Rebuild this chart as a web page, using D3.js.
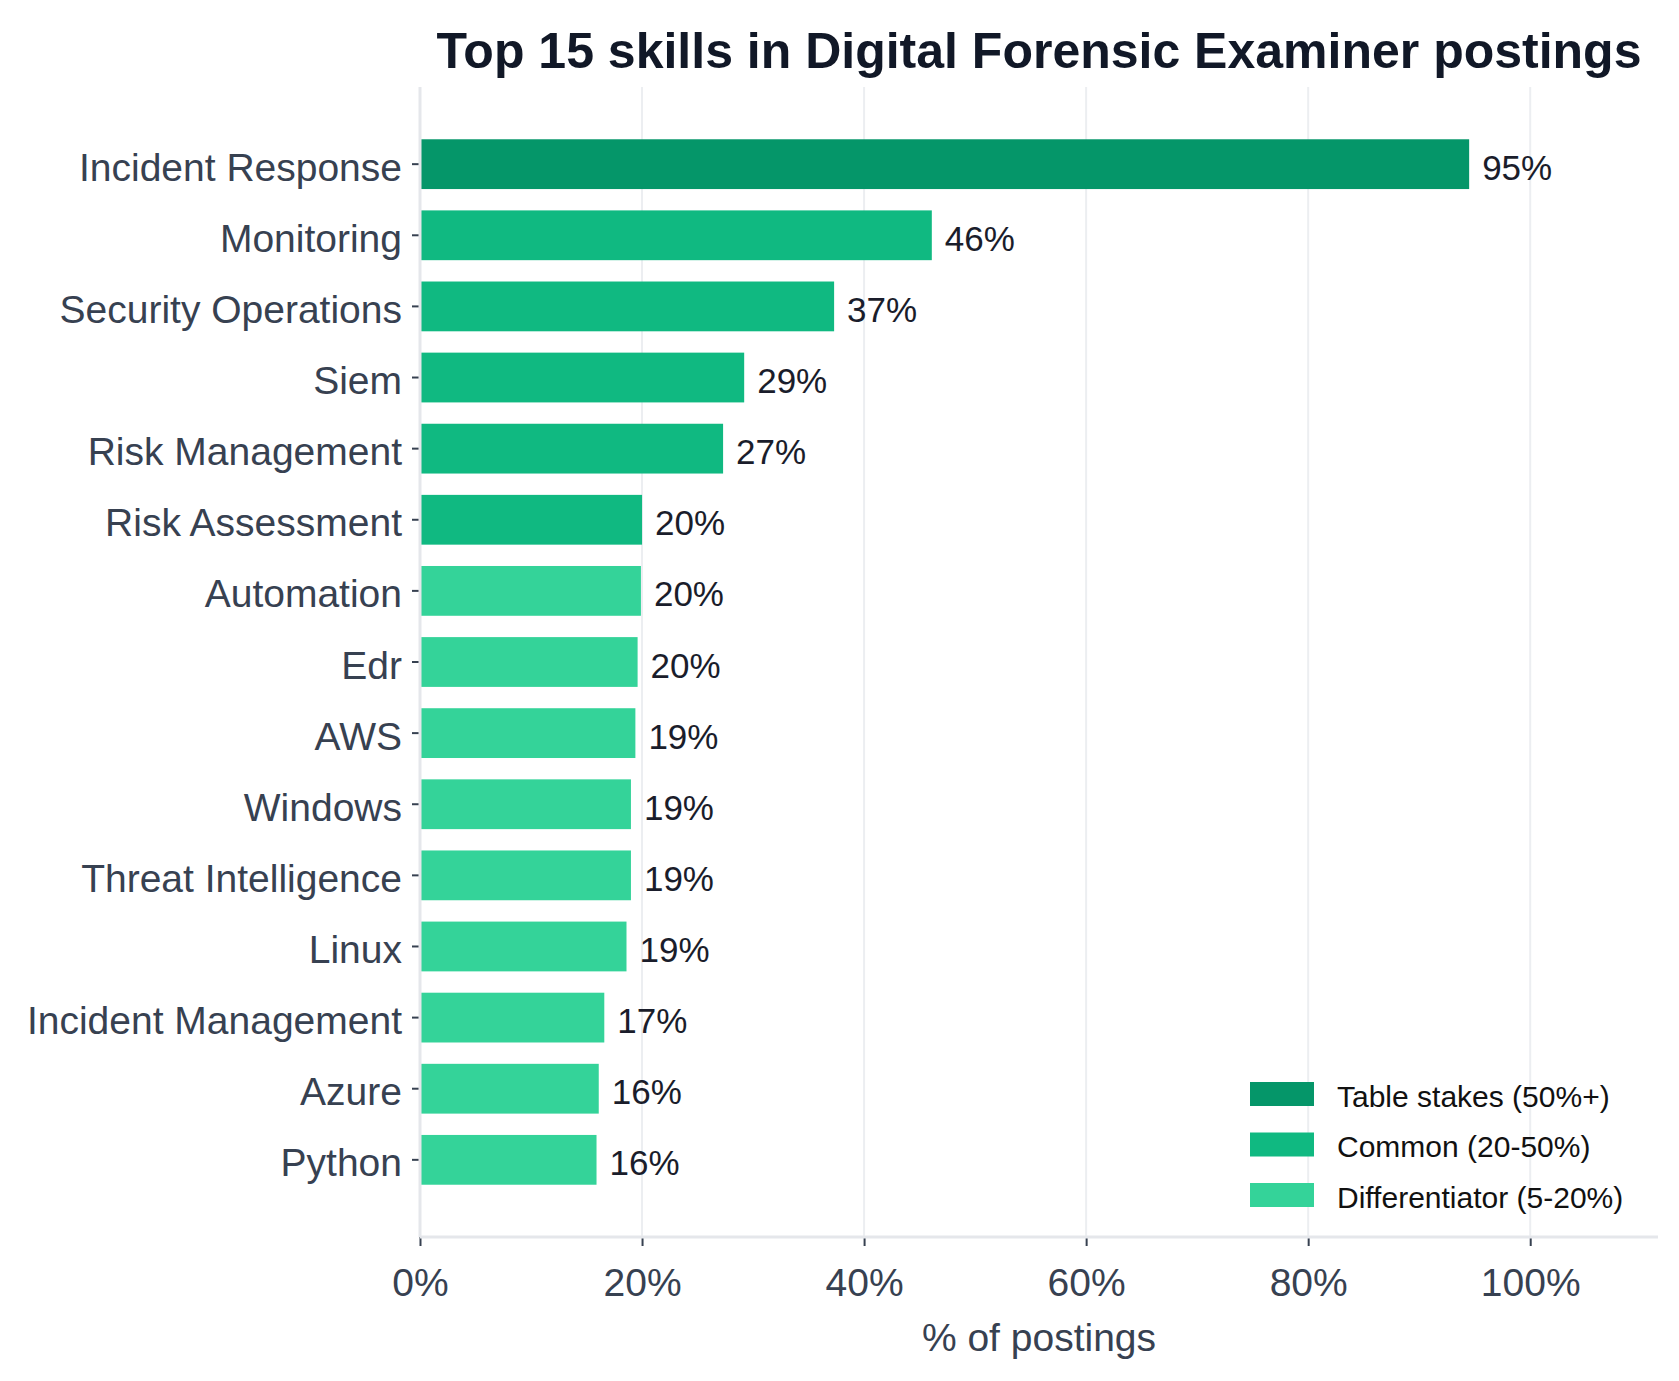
<!DOCTYPE html>
<html>
<head>
<meta charset="utf-8">
<script src="https://cdn.jsdelivr.net/npm/d3@7"></script>
<style>
  body { margin: 0; background: #ffffff; }
  svg text { font-family: "Liberation Sans", Arial, Helvetica, sans-serif; }
</style>
</head>
<body>
<div id="chart"></div>
<script>
// skills, top to bottom
const skills = [
  "Incident Response", "Monitoring", "Security Operations", "Siem",
  "Risk Management", "Risk Assessment", "Automation", "Edr", "AWS",
  "Windows", "Threat Intelligence", "Linux", "Incident Management",
  "Azure", "Python"
];
// share of postings (%)
const shares = [94.5, 46.1, 37.3, 29.2, 27.3, 20.0, 19.9, 19.6, 19.4, 19.0, 19.0, 18.6, 16.6, 16.1, 15.9];
// tier of each skill
const tiers = [
  "Table stakes", "Common", "Common", "Common", "Common", "Common",
  "Differentiator", "Differentiator", "Differentiator", "Differentiator",
  "Differentiator", "Differentiator", "Differentiator", "Differentiator", "Differentiator"
];
const tierNames = ["Table stakes", "Common", "Differentiator"];
const tierLabels = ["Table stakes (50%+)", "Common (20-50%)", "Differentiator (5-20%)"];
const xTicks = [0, 20, 40, 60, 80, 100];

const data = skills.map((s, i) => ({ skill: s, value: shares[i], tier: tiers[i] }));

const W = 1679, H = 1381;
const margin = { top: 87, right: 21, bottom: 144, left: 420 };
const width = W - margin.left - margin.right,
      height = H - margin.top - margin.bottom;

const color = d3.scaleOrdinal()
    .domain(tierNames)
    .range(["#059669", "#10b981", "#34d399"]);

const svg = d3.select("#chart")
    .append("svg")
    .attr("width", W)
    .attr("height", H);

const g = svg.append("g")
    .attr("transform", `translate(${margin.left},${margin.top})`);

// x scale: leave room on the right for the labels
const x = d3.scaleLinear()
    .domain([0, d3.max(shares) * 1.18])
    .range([0, width]);

const y = d3.scaleBand()
    .domain(skills)
    .range([0, height])
    .paddingInner(0.3)
    .paddingOuter(0.735);

// vertical grid
g.selectAll(".grid")
    .data(xTicks)
    .enter().append("line")
    .attr("class", "grid")
    .attr("x1", d => x(d))
    .attr("x2", d => x(d))
    .attr("y1", 0)
    .attr("y2", height)
    .attr("stroke", "#eceef1")
    .attr("stroke-width", 2);

// bars
g.selectAll(".bar")
    .data(data)
    .enter().append("rect")
    .attr("class", "bar")
    .attr("x", x(0))
    .attr("y", d => y(d.skill))
    .attr("width", d => x(d.value) - x(0))
    .attr("height", y.bandwidth())
    .attr("fill", d => color(d.tier));

// value labels
g.selectAll(".value-label")
    .data(data)
    .enter().append("text")
    .attr("class", "value-label")
    .attr("x", d => x(d.value) + 13)
    .attr("y", d => y(d.skill) + y.bandwidth() / 2 + 3)
    .attr("dominant-baseline", "central")
    .attr("font-size", "35px")
    .attr("fill", "#1a1d2b")
    .text(d => Math.round(d.value) + "%");

// y axis
const yAxis = g.append("g")
    .call(d3.axisLeft(y).tickSize(8).tickPadding(10));
yAxis.select(".domain").remove();
yAxis.selectAll(".tick line").attr("stroke", "#374151").attr("stroke-width", 2);
yAxis.selectAll(".tick text")
    .attr("font-size", "39px")
    .attr("fill", "#374151")
    .attr("dy", "3px")
    .attr("dominant-baseline", "central");

// x axis
const xAxis = g.append("g")
    .attr("transform", `translate(0,${height})`)
    .call(d3.axisBottom(x).tickValues(xTicks).tickFormat(d => d + "%").tickSize(9).tickPadding(22));
xAxis.select(".domain").remove();
xAxis.selectAll(".tick line").attr("stroke", "#374151").attr("stroke-width", 2);
xAxis.selectAll(".tick text")
    .attr("font-size", "39px")
    .attr("fill", "#374151");

// spines (light)
g.append("line")
    .attr("x1", 0).attr("x2", 0)
    .attr("y1", 0).attr("y2", height)
    .attr("stroke", "#e5e7eb")
    .attr("stroke-width", 3);
g.append("line")
    .attr("x1", 0).attr("x2", width)
    .attr("y1", height).attr("y2", height)
    .attr("stroke", "#e5e7eb")
    .attr("stroke-width", 3);

// axis label
g.append("text")
    .attr("x", width / 2)
    .attr("y", height + 114)
    .attr("text-anchor", "middle")
    .attr("font-size", "39px")
    .attr("fill", "#374151")
    .text("% of postings");

// title
svg.append("text")
    .attr("x", margin.left + width / 2)
    .attr("y", 68)
    .attr("text-anchor", "middle")
    .attr("font-size", "50px")
    .attr("font-weight", "bold")
    .attr("fill", "#111827")
    .text("Top 15 skills in Digital Forensic Examiner postings");

// legend
const legend = svg.append("g")
    .attr("transform", "translate(1250,1082)");

tierNames.forEach((t, i) => {
    legend.append("rect")
        .attr("x", 0)
        .attr("y", i * 50.5)
        .attr("width", 64)
        .attr("height", 24)
        .attr("fill", color(t));
    legend.append("text")
        .attr("x", 87)
        .attr("y", i * 50.5 + 14)
        .attr("dominant-baseline", "central")
        .attr("font-size", "30px")
        .attr("fill", "#111111")
        .text(tierLabels[i]);
});
</script>
</body>
</html>
